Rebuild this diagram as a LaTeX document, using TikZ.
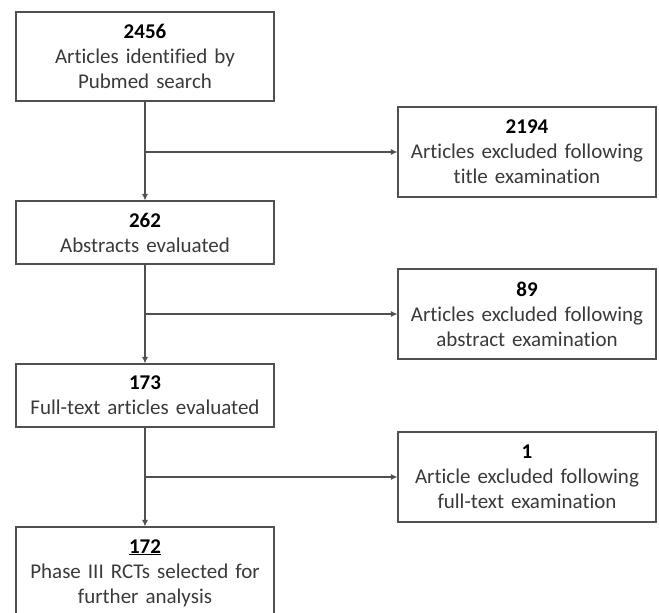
\documentclass[tikz,border=0pt]{standalone}
\usepackage{fontspec}
\setmainfont{Carlito}[Ligatures={NoCommon,NoRequired,NoContextual}]
\usetikzlibrary{arrows.meta}
\definecolor{txt}{HTML}{3A3A3A}
\definecolor{edge}{HTML}{505050}
\tikzset{
  box/.style={draw=edge, line width=1.1pt, minimum width=258pt, text width=254pt, align=center,
    inner sep=0pt, font=\fontsize{21}{25}\selectfont, text=txt},
  conn/.style={draw=edge, line width=1.1pt},
  arr/.style={conn, -{Latex[length=6.5pt,width=6pt]}}
}
\newcommand{\num}[1]{\textbf{\color{black}#1}}
\begin{document}
\begin{tikzpicture}[x=1pt,y=-1pt]
\useasboundingbox (0,0) rectangle (659,613);
\clip (0,0) rectangle (659,613);
\fill[white] (0,0) rectangle (659,613);
\node[box, minimum height=89pt] (b1) at (145,56.5) {\num{2456}\\Articles identified by\\Pubmed search};
\node[box, minimum height=63pt] (b2) at (145,232.5) {\num{262}\\Abstracts evaluated};
\node[box, minimum height=63pt] (b3) at (145,395.5) {\num{173}\\Full-text articles evaluated};
\node[box, minimum height=92pt] (b4) at (145,573) {\num{\underline{172}}\\Phase III RCTs selected for\\further analysis};
\node[box, minimum height=90pt] (r1) at (527,152) {\num{2194}\\Articles excluded following\\title examination};
\node[box, minimum height=90pt] (r2) at (527,314) {\num{89}\\Articles excluded following\\abstract examination};
\node[box, minimum height=90pt] (r3) at (527,477) {\num{1}\\Article excluded following\\full-text examination};
\draw[arr] (b1.south) -- (b2.north);
\draw[arr] (b2.south) -- (b3.north);
\draw[arr] (b3.south) -- (b4.north);
\coordinate (j1) at (b1.south |- r1.west);
\coordinate (j2) at (b2.south |- r2.west);
\coordinate (j3) at (b3.south |- r3.west);
\draw[arr] (j1) -- (r1.west);
\draw[arr] (j2) -- (r2.west);
\draw[arr] (j3) -- (r3.west);
\end{tikzpicture}
\end{document}
